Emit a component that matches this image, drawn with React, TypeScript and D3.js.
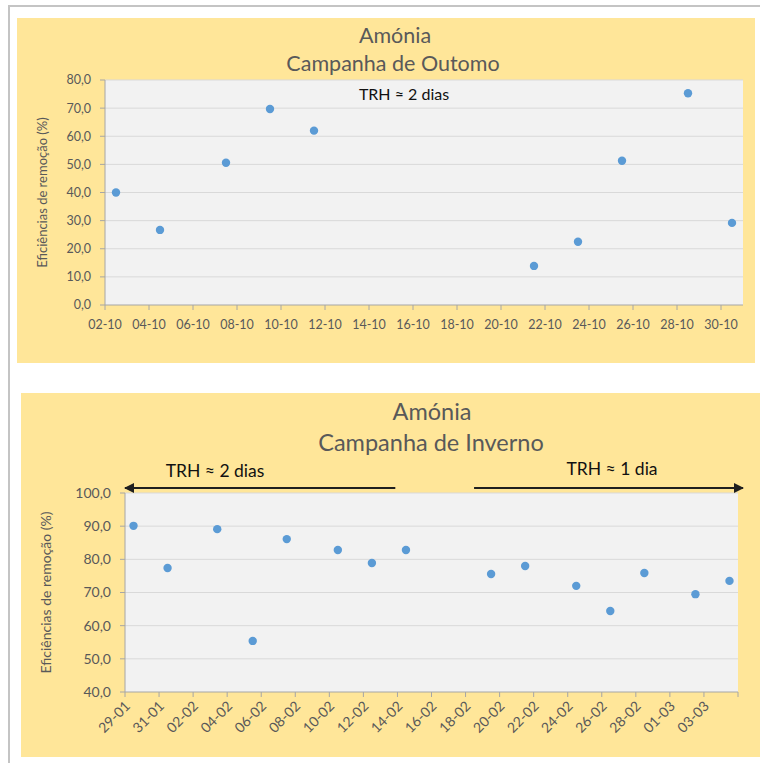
import React from "react";
import * as d3 from "d3";

// Autumn campaign (October 2015): sampling instants and ammonia removal efficiency (%)
const autumnDates = [
  "2015-10-02 12:00", "2015-10-04 12:00", "2015-10-07 12:00", "2015-10-09 12:00",
  "2015-10-11 12:00", "2015-10-21 12:00", "2015-10-23 12:00", "2015-10-25 12:00",
  "2015-10-28 12:00", "2015-10-30 12:00",
];
const autumnValues = [40.0, 26.7, 50.6, 69.7, 62.0, 13.9, 22.5, 51.3, 75.3, 29.2];

// Winter campaign (Jan–Mar 2016)
const winterDates = [
  "2016-01-29 12:00", "2016-01-31 12:00", "2016-02-03 10:00", "2016-02-05 12:00",
  "2016-02-07 12:00", "2016-02-10 12:00", "2016-02-12 12:00", "2016-02-14 12:00",
  "2016-02-19 12:00", "2016-02-21 12:00", "2016-02-24 12:00", "2016-02-26 12:00",
  "2016-02-28 12:00", "2016-03-02 12:00", "2016-03-04 12:00",
];
const winterValues = [90.1, 77.4, 89.1, 55.4, 86.1, 82.8, 78.9, 82.8, 75.6, 78.0, 72.0, 64.4, 75.9, 69.5, 73.5];

// Axis ranges
const autumnDomain = ["2015-10-02 00:00", "2015-10-31 00:00"];
const winterDomain = ["2016-01-29 00:00", "2016-03-05 00:00"];
const autumnYTicks = [0, 10, 20, 30, 40, 50, 60, 70, 80];
const winterYTicks = [40, 50, 60, 70, 80, 90, 100];

// Hydraulic retention time periods in the winter campaign
const winterPeriods = [
  { label: "TRH ≈ 2 dias", from: "2016-01-29 00:00", to: "2016-02-13 21:00", dir: "left" },
  { label: "TRH ≈ 1 dia", from: "2016-02-18 12:00", to: "2016-03-05 07:00", dir: "right" },
];

const parse = d3.timeParse("%Y-%m-%d %H:%M");
const fmtDay = d3.timeFormat("%d-%m");
const fmtNum = (v: number) => v.toFixed(1).replace(".", ",");

const FONT = "Lato, 'Open Sans', sans-serif";
const PANEL = "#FFE699";
const PLOT_BG = "#F2F2F2";
const GRID = "#D9D9D9";
const AXIS = "#A6A6A6";
const TEXT = "#595959";
const DOT = "#5B9BD5";

type Box = { left: number; right: number; top: number; bottom: number };

function ScatterPanel(props: {
  dates: string[];
  values: number[];
  domain: string[];
  yTicks: number[];
  plot: Box;
  rotateLabels: boolean;
  tickFont: number;
  yLabelX: number;
  yLabelFont: number;
}) {
  const { dates, values, domain, yTicks, plot, rotateLabels, tickFont, yLabelX, yLabelFont } = props;
  const d0 = parse(domain[0])!;
  const d1 = parse(domain[1])!;
  const x = d3.scaleTime().domain([d0, d1]).range([plot.left, plot.right]);
  const y = d3
    .scaleLinear()
    .domain([yTicks[0], yTicks[yTicks.length - 1]])
    .range([plot.bottom, plot.top]);
  const xTicks = d3.timeDay.range(d0, d3.timeDay.offset(d1, 1), 2);

  return (
    <g>
      <rect
        x={plot.left}
        y={plot.top}
        width={plot.right - plot.left}
        height={plot.bottom - plot.top}
        fill={PLOT_BG}
      />
      {yTicks.slice(1).map((t) => (
        <line key={t} x1={plot.left} x2={plot.right} y1={y(t)} y2={y(t)} stroke={GRID} strokeWidth={1} />
      ))}
      {/* y axis */}
      <line x1={plot.left} x2={plot.left} y1={plot.top} y2={plot.bottom} stroke={AXIS} strokeWidth={1} />
      {yTicks.map((t) => (
        <g key={t}>
          <line x1={plot.left - 5} x2={plot.left} y1={y(t)} y2={y(t)} stroke={AXIS} />
          <text
            x={plot.left - 14}
            y={y(t)}
            dy="0.35em"
            textAnchor="end"
            fontFamily={FONT}
            fontSize={tickFont}
            fill={TEXT}
          >
            {fmtNum(t)}
          </text>
        </g>
      ))}
      {/* x axis */}
      <line x1={plot.left} x2={plot.right} y1={plot.bottom} y2={plot.bottom} stroke={AXIS} strokeWidth={1} />
      {xTicks.map((t) => {
        const px = x(t);
        const showLabel = +t < +d1;
        return (
          <g key={+t}>
            <line x1={px} x2={px} y1={plot.bottom} y2={plot.bottom + 5} stroke={AXIS} />
            {showLabel &&
              (rotateLabels ? (
                <text
                  transform={`translate(${px + 6},${plot.bottom + 15}) rotate(-45)`}
                  textAnchor="end"
                  fontFamily={FONT}
                  fontSize={tickFont}
                  fill={TEXT}
                >
                  {fmtDay(t)}
                </text>
              ) : (
                <text
                  x={px}
                  y={plot.bottom + 24}
                  textAnchor="middle"
                  fontFamily={FONT}
                  fontSize={tickFont}
                  fill={TEXT}
                >
                  {fmtDay(t)}
                </text>
              ))}
          </g>
        );
      })}
      <text
        transform={`translate(${yLabelX},${(plot.top + plot.bottom) / 2}) rotate(-90)`}
        textAnchor="middle"
        dy="0.35em"
        fontFamily={FONT}
        fontSize={yLabelFont}
        fill={TEXT}
      >
        Eficiências de remoção (%)
      </text>
      {dates.map((d, i) => (
        <circle key={d} cx={x(parse(d)!)} cy={y(values[i])} r={4.2} fill={DOT} />
      ))}
    </g>
  );
}

export default function App() {
  const autumnPlot: Box = { left: 105, right: 743, top: 80, bottom: 305 };
  const winterPlot: Box = { left: 125, right: 738, top: 493, bottom: 692 };

  const wx = d3
    .scaleTime()
    .domain([parse(winterDomain[0])!, parse(winterDomain[1])!])
    .range([winterPlot.left, winterPlot.right]);
  const arrowY = winterPlot.top - 5;

  return (
    <svg
      width={760}
      height={763}
      style={{ position: "absolute", left: 0, top: 0, background: "#FFFFFF" }}
    >
      <defs>
        <marker id="ah" viewBox="0 0 10 10" refX="9" refY="5" markerWidth="5" markerHeight="5" orient="auto-start-reverse">
          <path d="M0,0 L10,5 L0,10 z" fill="#1F1F1F" />
        </marker>
      </defs>

      {/* document frame */}
      <line x1={9} x2={760} y1={6} y2={6} stroke="#C4C4C4" strokeWidth={2} />
      <line x1={9} x2={9} y1={5} y2={763} stroke="#C4C4C4" strokeWidth={2} />

      {/* Autumn chart */}
      <rect x={17} y={18} width={738} height={345} fill={PANEL} />
      <text x={395} y={43} textAnchor="middle" fontFamily={FONT} fontSize={21.5} fill={TEXT}>
        Amónia
      </text>
      <text x={393} y={71} textAnchor="middle" fontFamily={FONT} fontSize={21.5} fill={TEXT}>
        Campanha de Outomo
      </text>
      <ScatterPanel
        dates={autumnDates}
        values={autumnValues}
        domain={autumnDomain}
        yTicks={autumnYTicks}
        plot={autumnPlot}
        rotateLabels={false}
        tickFont={12.5}
        yLabelX={42}
        yLabelFont={13}
      />
      <text x={404} y={100} textAnchor="middle" fontFamily={FONT} fontSize={16} fill="#111111">
        TRH ≈ 2 dias
      </text>

      {/* Winter chart */}
      <rect x={21} y={393} width={739} height={364} fill={PANEL} />
      <text x={432} y={420} textAnchor="middle" fontFamily={FONT} fontSize={23.5} fill={TEXT}>
        Amónia
      </text>
      <text x={431} y={451} textAnchor="middle" fontFamily={FONT} fontSize={23.5} fill={TEXT}>
        Campanha de Inverno
      </text>
      <ScatterPanel
        dates={winterDates}
        values={winterValues}
        domain={winterDomain}
        yTicks={winterYTicks}
        plot={winterPlot}
        rotateLabels={true}
        tickFont={14}
        yLabelX={46}
        yLabelFont={14}
      />
      {winterPeriods.map((p) => {
        const a = wx(parse(p.from)!);
        const b = wx(parse(p.to)!);
        const left = p.dir === "left";
        return (
          <g key={p.label}>
            <line
              x1={left ? b : a}
              x2={left ? a : b}
              y1={arrowY}
              y2={arrowY}
              stroke="#1F1F1F"
              strokeWidth={2}
              markerEnd="url(#ah)"
            />
            <text
              x={left ? 215 : 612}
              y={left ? 477 : 475}
              textAnchor="middle"
              fontFamily={FONT}
              fontSize={17.5}
              fill="#111111"
            >
              {p.label}
            </text>
          </g>
        );
      })}
    </svg>
  );
}
